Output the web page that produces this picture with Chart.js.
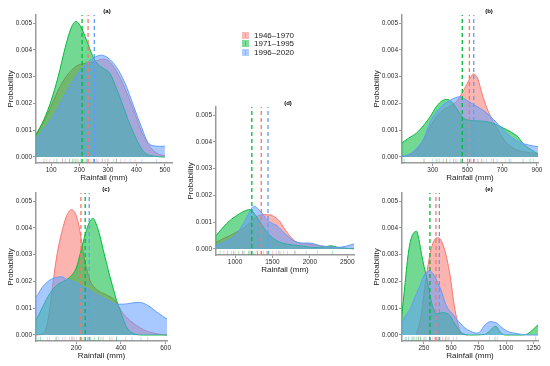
<!DOCTYPE html>
<html>
<head>
<meta charset="utf-8">
<script src="https://cdn.jsdelivr.net/npm/chart.js@4.4.0/dist/chart.umd.min.js"></script>
<style>
  body { margin: 0; background: #fff; }
  #wrap { position: relative; width: 550px; height: 366px; overflow: hidden; }
  canvas { position: absolute; }
  #legend { position: absolute; left: 242px; top: 31px; font: 8px "Liberation Sans", Arial, sans-serif; color: #1a1a1a; }
  .row { height: 8.5px; display: flex; align-items: center; }
  .key { width: 7px; height: 7px; margin-right: 5px; position: relative; }
  .key i { position: absolute; left: 3px; top: 1px; width: 1px; height: 5px; opacity: 0.5; }
</style>
</head>
<body>
<div id="wrap">
  <canvas id="pa" width="181" height="184" style="left:0;top:0"></canvas>
  <canvas id="pb" width="181" height="184" style="left:366px;top:0"></canvas>
  <canvas id="pc" width="176" height="184" style="left:0;top:178px"></canvas>
  <canvas id="pd" width="184" height="184" style="left:180px;top:92px"></canvas>
  <canvas id="pe" width="182" height="184" style="left:366px;top:178px"></canvas>
  <div id="legend"></div>
</div>
<script>
'use strict';

const periods = ['1946–1970', '1971–1995', '1996–2020'];
const colors = ['#F8766D', '#00BA38', '#619CFF'];
const yTicks = [0, 0.001, 0.002, 0.003, 0.004, 0.005];
const Y_MIN = -0.000224;
const Y_MAX = 0.0053;

// density curves: [rainfall (mm), probability x 1e-3]
// (a)
const aTicks = [100, 200, 300, 400, 500];
const aRed = [[47,0.8],[75,1.35],[100,1.9],[130,2.6],[160,3.1],[190,3.4],[220,3.5],[250,3.55],[280,3.65],[300,3.6],[330,3.2],[360,2.55],[390,1.75],[420,0.9],[450,0.35],[475,0.12],[500,0.05]];
const aGreen = [[47,0.84],[75,1.4],[100,2.1],[125,3.0],[150,4.1],[170,4.8],[187,5.06],[205,4.85],[225,4.35],[245,3.8],[265,3.45],[285,3.3],[308,3.1],[330,2.55],[350,2.0],[370,1.4],[390,0.9],[410,0.45],[430,0.15],[460,0.03],[500,0]];
const aBlue = [[47,0.7],[75,1.05],[100,1.4],[130,1.95],[160,2.55],[190,3.05],[220,3.45],[250,3.7],[275,3.8],[300,3.7],[330,3.35],[360,2.75],[390,1.9],[420,1.05],[440,0.55],[460,0.42],[480,0.4],[500,0.4]];
const aMeans = [230, 209, 252];
const aRugRed = [85, 110, 140, 165, 190, 215, 240, 260, 280, 300, 330, 360, 395];
const aRugGreen = [75, 120, 150, 165, 175, 185, 195, 205, 225, 250, 290, 330];
const aRugBlue = [95, 140, 180, 220, 250, 265, 280, 300, 320, 345, 380, 420, 470];

// (b)
const bTicks = [300, 500, 700, 900];
const bRed = [[123,0.02],[170,0.1],[210,0.3],[250,0.7],[300,1.3],[350,1.7],[400,1.9],[440,2.1],[470,2.4],[495,2.7],[515,2.95],[535,3.1],[560,2.9],[582,2.4],[605,1.95],[620,1.7],[650,1.3],[690,0.85],[730,0.5],[780,0.28],[840,0.18],[906,0.12]];
const bGreen = [[123,0.53],[160,0.7],[208,0.9],[250,1.2],[285,1.5],[323,1.9],[355,2.1],[380,2.15],[410,2.05],[438,1.8],[470,1.5],[500,1.38],[550,1.35],[600,1.33],[650,1.25],[700,1.1],[745,0.95],[790,0.75],[820,0.5],[860,0.3],[906,0.12]];
const bBlue = [[123,0.02],[170,0.12],[210,0.35],[246,0.65],[285,1.3],[330,1.75],[370,2.0],[410,2.15],[455,2.25],[500,2.1],[550,1.9],[600,1.7],[650,1.4],[700,1.05],[750,0.75],[800,0.55],[850,0.45],[906,0.38]];
const bMeans = [511, 470, 536];
const bRugRed = [250, 330, 380, 430, 470, 500, 520, 540, 560, 590, 640, 720];
const bRugGreen = [135, 250, 320, 360, 380, 420, 460, 500, 580, 650, 740, 820, 860];
const bRugBlue = [300, 340, 400, 440, 470, 520, 560, 610, 670, 750, 880];

// (c)
const cTicks = [200, 400, 600];
const cRed = [[20,0],[50,0.05],[67,0.3],[82,1.0],[97,2.0],[112,2.9],[127,3.55],[142,4.05],[157,4.45],[179,4.68],[195,4.55],[209,4.2],[220,3.7],[231,3.1],[246,2.5],[261,2.05],[291,1.7],[335,1.5],[373,1.3],[410,0.8],[454,0.45],[514,0.15],[573,0.03],[606,0]];
const cGreen = [[20,0.55],[50,1.05],[82,1.55],[112,1.85],[142,2.0],[170,2.15],[200,2.5],[220,3.1],[240,3.75],[261,4.25],[276,4.35],[291,4.1],[306,3.7],[320,3.2],[335,2.7],[350,2.2],[365,1.75],[380,1.3],[395,0.95],[410,0.6],[425,0.3],[454,0.06],[500,0],[606,0]];
const cBlue = [[20,1.4],[50,1.8],[82,2.05],[112,2.15],[135,2.17],[157,2.08],[200,1.95],[231,1.8],[261,1.65],[306,1.45],[350,1.25],[380,1.15],[410,1.15],[440,1.18],[480,1.22],[510,1.15],[530,1.05],[560,0.86],[590,0.68],[606,0.6]];
const cMeans = [221, 240, 258];
const cRugRed = [80, 120, 150, 170, 185, 200, 215, 230, 260, 310, 360, 420];
const cRugGreen = [40, 110, 180, 220, 250, 265, 280, 300, 320, 350, 380];
const cRugBlue = [30, 70, 110, 140, 190, 240, 300, 380, 450, 490, 520];

// (d)
const dTicks = [1000, 1500, 2000, 2500];
const dRed = [[745,0.25],[850,0.4],[933,0.5],[1050,0.68],[1157,0.87],[1250,1.12],[1336,1.27],[1420,1.28],[1471,1.27],[1530,1.2],[1600,1.02],[1650,0.8],[1700,0.6],[1760,0.4],[1830,0.25],[1964,0.19],[2143,0.12],[2323,0.06],[2450,0.03],[2590,0.01]];
const dGreen = [[745,0.5],[888,0.95],[1022,1.25],[1157,1.45],[1200,1.47],[1250,1.35],[1336,1.0],[1426,0.62],[1520,0.38],[1600,0.25],[1700,0.18],[1874,0.12],[2054,0.06],[2200,0.08],[2280,0.12],[2380,0.06],[2500,0.02],[2590,0.01]];
const dBlue = [[745,0.12],[850,0.25],[933,0.37],[1000,0.5],[1067,0.75],[1130,1.05],[1179,1.3],[1220,1.52],[1256,1.6],[1300,1.52],[1336,1.42],[1426,1.1],[1500,0.95],[1561,0.87],[1620,0.7],[1695,0.5],[1760,0.35],[1830,0.25],[1920,0.22],[2009,0.22],[2080,0.17],[2143,0.12],[2250,0.08],[2368,0.06],[2480,0.1],[2590,0.19]];
const dMeans = [1350, 1224, 1440];
const dRugRed = [850, 1000, 1100, 1200, 1280, 1350, 1420, 1500, 1580, 1650, 1800];
const dRugGreen = [800, 900, 980, 1050, 1120, 1180, 1220, 1300, 1450, 1600, 1800, 2300];
const dRugBlue = [950, 1100, 1200, 1250, 1300, 1380, 1450, 1550, 1700, 1950, 2100];

// (e)
const eTicks = [250, 500, 750, 1000, 1250];
const eRed = [[180,0.05],[220,0.6],[250,1.5],[280,2.4],[310,3.1],[340,3.5],[370,3.63],[400,3.58],[430,3.3],[460,2.85],[490,2.2],[520,1.3],[550,0.6],[580,0.15],[610,0.03],[650,0]];
const eGreen = [[50,0.8],[75,1.8],[106,3.0],[130,3.55],[155,3.8],[183,3.87],[205,3.55],[229,3.0],[252,2.55],[275,2.15],[298,1.65],[321,1.2],[345,0.9],[367,0.8],[400,0.82],[428,0.84],[460,0.8],[489,0.72],[520,0.5],[551,0.3],[580,0.12],[612,0.04],[680,0],[800,0.02],[850,0.15],[888,0.3],[910,0.32],[935,0.18],[965,0.04],[1000,0],[1150,0],[1200,0.05],[1240,0.18],[1271,0.3],[1292,0.38]];
const eBlue = [[50,0.44],[80,0.7],[121,0.94],[152,1.25],[183,1.55],[214,1.85],[244,2.17],[275,2.35],[305,2.39],[330,2.3],[351,2.17],[382,1.9],[413,1.6],[440,1.25],[459,1.06],[490,0.88],[520,0.75],[551,0.58],[582,0.44],[620,0.28],[674,0.14],[735,0.07],[770,0.15],[796,0.32],[830,0.45],[857,0.5],[888,0.48],[919,0.44],[950,0.32],[1011,0.14],[1103,0.05],[1195,0],[1292,0]];
const eMeans = [360, 305, 391];
const eRugRed = [200, 260, 300, 330, 350, 370, 390, 420, 450, 480, 520];
const eRugGreen = [80, 110, 140, 160, 180, 200, 220, 250, 300, 380, 450, 900, 1270];
const eRugBlue = [90, 150, 220, 270, 310, 350, 400, 470, 550, 850, 920];

const RUG_Y = Y_MIN + 0.00008;  // rug sits just above the bottom of the panel

Chart.defaults.font.family = '"Liberation Sans", Arial, sans-serif';

// draws "(a)" etc above each panel
const panelTitle = {
  id: 'panelTitle',
  afterDraw(chart, args, opts) {
    const ctx = chart.ctx;
    ctx.save();
    ctx.font = 'bold 6px "Liberation Sans", Arial, sans-serif';
    ctx.fillStyle = '#000';
    ctx.textAlign = 'center';
    ctx.textBaseline = 'middle';
    ctx.fillText(opts.text, opts.x, 11.5);
    ctx.restore();
  }
};

function buildPanel(id, title, titleX, xMin, xMax, xTicks, curves, means, rugs, padRight) {
  const datasets = [];
  curves.forEach((pts, i) => {
    datasets.push({
      data: pts.map(p => ({x: p[0], y: p[1] / 1000})),
      borderColor: colors[i],
      backgroundColor: colors[i] + '8C',
      borderWidth: 1,
      fill: 'origin',
      pointRadius: 0,
      cubicInterpolationMode: 'monotone',
      order: 10 - i   // red at the bottom, blue on top
    });
  });
  means.forEach((m, i) => {
    datasets.push({
      data: [{x: m, y: Y_MIN}, {x: m, y: Y_MAX}],
      borderColor: colors[i],
      borderWidth: 1.3,
      borderDash: [4, 3],
      pointRadius: 0,
      fill: false,
      order: 1
    });
  });
  rugs.forEach((r, i) => {
    datasets.push({
      data: r.map(v => ({x: v, y: RUG_Y})),
      showLine: false,
      pointStyle: 'line',
      rotation: 90,
      pointRadius: 2.2,
      pointBorderColor: colors[i] + '77',
      pointBorderWidth: 0.8,
      order: 0
    });
  });

  const tickFont = {size: 6.5};
  const axisGrid = {drawOnChartArea: false, drawTicks: true, tickLength: 3, color: '#9a9a9a', lineWidth: 1};
  const axisBorder = {display: true, color: '#9a9a9a', width: 1.5};

  return new Chart(document.getElementById(id), {
    type: 'line',
    data: {datasets},
    options: {
      responsive: false,
      animation: false,
      layout: {padding: {top: 15, right: padRight, left: 0, bottom: 0}},
      plugins: {
        legend: {display: false},
        tooltip: {enabled: false},
        panelTitle: {text: title, x: titleX}
      },
      scales: {
        x: {
          type: 'linear',
          min: xMin,
          max: xMax,
          afterBuildTicks: s => { s.ticks = xTicks.map(v => ({value: v})); },
          afterFit: s => { s.height = 21; },
          grid: axisGrid,
          border: axisBorder,
          ticks: {font: tickFont, color: '#2b2b2b', padding: 0, maxRotation: 0, autoSkip: false, callback: v => String(v)},
          title: {display: true, text: 'Rainfall (mm)', font: {size: 8}, color: '#1a1a1a', padding: {top: 0, bottom: 1}}
        },
        y: {
          min: Y_MIN,
          max: Y_MAX,
          afterBuildTicks: s => { s.ticks = yTicks.map(v => ({value: v})); },
          afterFit: s => { s.width = 36; },
          grid: axisGrid,
          border: axisBorder,
          ticks: {font: tickFont, color: '#2b2b2b', padding: 1, callback: v => v.toFixed(3)},
          title: {display: true, text: 'Probability', font: {size: 8}, color: '#1a1a1a', padding: {top: 6, bottom: 0}}
        }
      }
    },
    plugins: [panelTitle]
  });
}

buildPanel('pa', '(a)', 107, 47, 525, aTicks, [aRed, aGreen, aBlue], aMeans, [aRugRed, aRugGreen, aRugBlue], 9);
buildPanel('pb', '(b)', 123, 123, 906, bTicks, [bRed, bGreen, bBlue], bMeans, [bRugRed, bRugGreen, bRugBlue], 9);
buildPanel('pc', '(c)', 106, 20, 606, cTicks, [cRed, cGreen, cBlue], cMeans, [cRugRed, cRugGreen, cRugBlue], 9);
buildPanel('pd', '(d)', 108, 745, 2590, dTicks, [dRed, dGreen, dBlue], dMeans, [dRugRed, dRugGreen, dRugBlue], 10);
buildPanel('pe', '(e)', 123, 50, 1292, eTicks, [eRed, eGreen, eBlue], eMeans, [eRugRed, eRugGreen, eRugBlue], 10);

// legend
const legend = document.getElementById('legend');
periods.forEach((p, i) => {
  const row = document.createElement('div');
  row.className = 'row';
  const key = document.createElement('span');
  key.className = 'key';
  key.style.background = colors[i] + '80';
  const tick = document.createElement('i');
  tick.style.background = colors[i];
  key.appendChild(tick);
  row.appendChild(key);
  const label = document.createElement('span');
  label.innerText = p;
  row.appendChild(label);
  legend.appendChild(row);
});
</script>
</body>
</html>
